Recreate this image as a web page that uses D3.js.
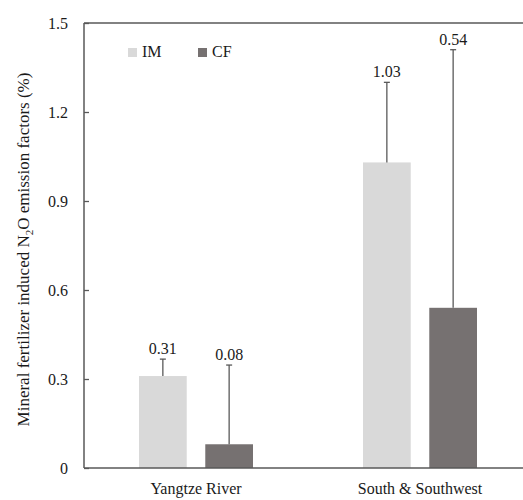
<!DOCTYPE html>
<html>
<head>
<meta charset="utf-8">
<script src="https://cdn.jsdelivr.net/npm/d3@7"></script>
</head>
<body style="margin:0; background:#fff">
<script>
var regions = ["Yangtze River", "South & Southwest"];
var seriesNames = ["IM", "CF"];
var imValues = [0.31, 1.03];
var cfValues = [0.08, 0.54];
var imErrTop = [0.367, 1.30];
var cfErrTop = [0.347, 1.41];
var yTicks = [0, 0.3, 0.6, 0.9, 1.2, 1.5];
var yTickLabels = ["0", "0.3", "0.6", "0.9", "1.2", "1.5"];

var colors = { IM: "#d9d9d9", CF: "#767171" };
var serif = "serif";

var width = 523, height = 500;
var margin = { left: 84, top: 23, right: -9, bottom: 32 };

var svg = d3.select("body").append("svg")
    .attr("width", width)
    .attr("height", height)
    .attr("font-family", serif);

var x0 = d3.scaleBand()
    .domain(regions)
    .range([margin.left, width - margin.right]);

var x1 = d3.scaleBand()
    .domain(seriesNames)
    .range([0, 114])
    .paddingInner(0.28);

var y = d3.scaleLinear()
    .domain([0, 1.5])
    .range([height - margin.bottom, margin.top]);

var rows = regions.map(function(r, i) {
  return { region: r, vals: [
    { key: "IM", v: imValues[i], e: imErrTop[i] },
    { key: "CF", v: cfValues[i], e: cfErrTop[i] }
  ]};
});

var groups = svg.selectAll("g.group").data(rows).enter()
    .append("g")
    .attr("class", "group")
    .attr("transform", function(d) {
      return "translate(" + (x0(d.region) + x0.bandwidth() / 2 - 57) + ",0)";
    });

groups.selectAll("rect").data(function(d) { return d.vals; }).enter()
    .append("rect")
    .attr("x", function(d) { return x1(d.key); })
    .attr("width", x1.bandwidth())
    .attr("y", function(d) { return y(d.v); })
    .attr("height", function(d) { return y(0) - y(d.v); })
    .style("fill", function(d) { return colors[d.key]; });

// error bars (upper only)
var err = groups.selectAll("g.err").data(function(d) { return d.vals; }).enter()
    .append("g")
    .attr("class", "err")
    .attr("transform", function(d) { return "translate(" + (x1(d.key) + x1.bandwidth() / 2) + ",0)"; });

err.append("line")
    .attr("x1", 0).attr("x2", 0)
    .attr("y1", function(d) { return y(d.v); })
    .attr("y2", function(d) { return y(d.e); })
    .style("stroke", "#595959").style("stroke-width", 1.3);

err.append("line")
    .attr("x1", -3).attr("x2", 3)
    .attr("y1", function(d) { return y(d.e); })
    .attr("y2", function(d) { return y(d.e); })
    .style("stroke", "#595959").style("stroke-width", 1.3);

err.append("text")
    .attr("x", 0)
    .attr("y", function(d) { return y(d.e) - 5; })
    .attr("text-anchor", "middle")
    .style("font-size", "16px")
    .text(function(d) { return d.v.toFixed(2); });

// y axis
var yAxis = d3.axisRight(y)
    .tickValues(yTicks)
    .tickSize(5)
    .tickFormat(function(d, i) { return yTickLabels[i]; });

var ya = svg.append("g")
    .attr("transform", "translate(" + margin.left + ",0)")
    .call(yAxis)
    .attr("font-family", serif)
    .attr("font-size", 16);
ya.select(".domain").remove();
ya.selectAll(".tick line").style("stroke", "#595959").style("stroke-width", 1.3);
ya.selectAll(".tick text")
    .attr("x", -16)
    .attr("text-anchor", "end")
    .style("font-size", "16px");

// frame: left, bottom, top
svg.append("line")
    .attr("x1", margin.left).attr("x2", margin.left)
    .attr("y1", y(1.5)).attr("y2", y(0))
    .style("stroke", "#595959").style("stroke-width", 1.5);
svg.append("line")
    .attr("x1", margin.left).attr("x2", width)
    .attr("y1", y(0)).attr("y2", y(0))
    .style("stroke", "#595959").style("stroke-width", 1.5);
svg.append("line")
    .attr("x1", margin.left).attr("x2", width)
    .attr("y1", y(1.5)).attr("y2", y(1.5))
    .style("stroke", "#595959").style("stroke-width", 1.5);

// x labels
svg.selectAll("text.xlab").data(regions).enter()
    .append("text")
    .attr("class", "xlab")
    .attr("x", function(d) { return x0(d) + x0.bandwidth() / 2; })
    .attr("y", 494)
    .attr("text-anchor", "middle")
    .style("font-size", "16px")
    .text(function(d) { return d; });

// y label
var ylab = svg.append("text")
    .attr("transform", "translate(29," + ((y(0) + y(1.5)) / 2 + 4) + ") rotate(-90)")
    .attr("text-anchor", "middle")
    .style("font-size", "17px");
ylab.append("tspan").text("Mineral fertilizer induced N");
ylab.append("tspan").attr("dy", 4).style("font-size", "11px").text("2");
ylab.append("tspan").attr("dy", -4).text("O emission factors (%)");

// legend
var legend = svg.selectAll("g.legend").data(seriesNames).enter()
    .append("g")
    .attr("class", "legend")
    .attr("transform", function(d, i) { return "translate(" + (128 + i * 70) + ",48)"; });
legend.append("rect")
    .attr("width", 9).attr("height", 9)
    .style("fill", function(d) { return colors[d]; });
legend.append("text")
    .attr("x", 14).attr("y", 9)
    .style("font-size", "16px")
    .text(function(d) { return d; });

svg.selectAll("text")
    .attr("font-family", serif)
    .style("font-family", serif)
    .style("fill", "#1a1a1a");
</script>
</body>
</html>
